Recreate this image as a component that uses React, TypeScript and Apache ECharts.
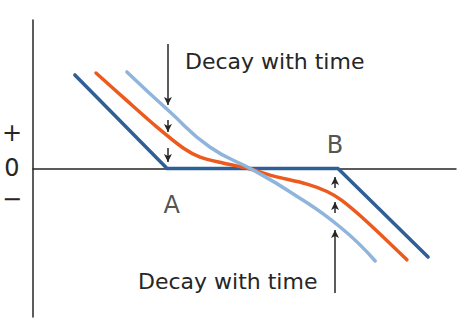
import React, { useEffect, useRef } from "react";
import * as echarts from "echarts";

// Payoff curves (abstract units: x 0..10, y -10..10)
const immediateCurve: [number, number][] = [
  [0.99, 6.3], [3.17, 0], [7.21, 0], [9.34, -5.96],
];
const midCurve: [number, number][] = [
  [1.49, 6.43], [2.2, 4.62], [2.93, 2.79], [3.55, 1.38], [3.95, 0.77],
  [4.49, 0.37], [5.06, 0.03], [5.67, -0.5], [6.48, -1.05], [6.95, -1.55],
  [7.3, -2.15], [7.9, -3.6], [8.84, -6.15],
];
const farCurve: [number, number][] = [
  [2.22, 6.5], [3.24, 3.8], [4.18, 1.45], [5.2, -0.1], [6.08, -1.58],
  [7.26, -3.94], [8.09, -6.23],
];
// Decay arrows: [x, yFrom, yTo]
const decayArrows: [number, number, number][] = [
  [3.19, 8.38, 4.28], [3.19, 3.27, 2.46], [3.19, 1.38, 0.44],
  [7.14, -8.38, -4.14], [7.14, -3.0, -2.26], [7.14, -1.31, -0.57],
];
const pointLabels: { name: string; x: number; y: number }[] = [
  { name: "A", x: 3.28, y: -2.45 },
  { name: "B", x: 7.14, y: 1.6 },
];
const signLabels = ["+", "0", "−"];
const annotationText = "Decay with time";

const FONT = "'DejaVu Sans', sans-serif";
const INK = "#262626";

export default function App() {
  const ref = useRef<HTMLDivElement>(null);
  useEffect(() => {
    if (!ref.current) return;
    const chart = echarts.init(ref.current, null, { renderer: "svg" });
    const lineSeries = (data: [number, number][], color: string, smooth: number) => ({
      type: "line",
      data,
      smooth,
      showSymbol: false,
      symbol: "none",
      lineStyle: { color, width: 3.5, cap: "round", join: "round" },
      silent: true,
      z: 3,
    });
    chart.setOption({
      animation: false,
      grid: { left: 33, right: 18, top: 20, bottom: 18 },
      xAxis: {
        type: "value",
        min: 0,
        max: 10,
        axisLine: { show: true, onZero: true, lineStyle: { color: INK, width: 1.5 } },
        axisTick: { show: false },
        axisLabel: { show: false },
        splitLine: { show: false },
      },
      yAxis: {
        type: "value",
        min: -10,
        max: 10,
        axisLine: { show: true, onZero: false, lineStyle: { color: INK, width: 1.5 } },
        axisTick: { show: false },
        axisLabel: { show: false },
        splitLine: { show: false },
      },
      series: [
        lineSeries(immediateCurve, "#2F5F97", 0),
        lineSeries(midCurve, "#EC5A1E", 0.3),
        lineSeries(farCurve, "#8FB5DC", 0.5),
        {
          type: "line",
          data: [],
          silent: true,
          markLine: {
            silent: true,
            animation: false,
            symbol: ["none", "arrow"],
            symbolSize: [6, 8],
            label: { show: false },
            lineStyle: { color: INK, width: 1.5, type: "solid" },
            data: decayArrows.map(([x, y0, y1]) => [
              { coord: [x, y0] },
              { coord: [x, y1] },
            ]),
          },
        },
        {
          type: "scatter",
          silent: true,
          clip: false,
          symbolSize: 0,
          data: pointLabels.map((p) => ({ name: p.name, value: [p.x, p.y] })),
          label: {
            show: true,
            position: "inside",
            formatter: "{b}",
            fontFamily: FONT,
            fontSize: 24,
            fontWeight: "normal",
            color: INK,
          },
        },
      ],
      graphic: [
        ...signLabels.map((s, i) => ({
          type: "text",
          x: 12,
          y: [133, 168, 199][i],
          style: {
            text: s,
            font: `normal 24px ${FONT}`,
            fill: INK,
            align: "center",
            verticalAlign: "middle",
          },
        })),
        {
          type: "text",
          x: 185,
          y: 61,
          style: {
            text: annotationText,
            font: `normal 22px ${FONT}`,
            fill: INK,
            align: "left",
            verticalAlign: "middle",
          },
        },
        {
          type: "text",
          x: 138,
          y: 281,
          style: {
            text: annotationText,
            font: `normal 22px ${FONT}`,
            fill: INK,
            align: "left",
            verticalAlign: "middle",
          },
        },
      ],
    });
    return () => chart.dispose();
  }, []);
  return <div ref={ref} style={{ width: 474, height: 335, position: "absolute", left: 0, top: 0 }} />;
}
